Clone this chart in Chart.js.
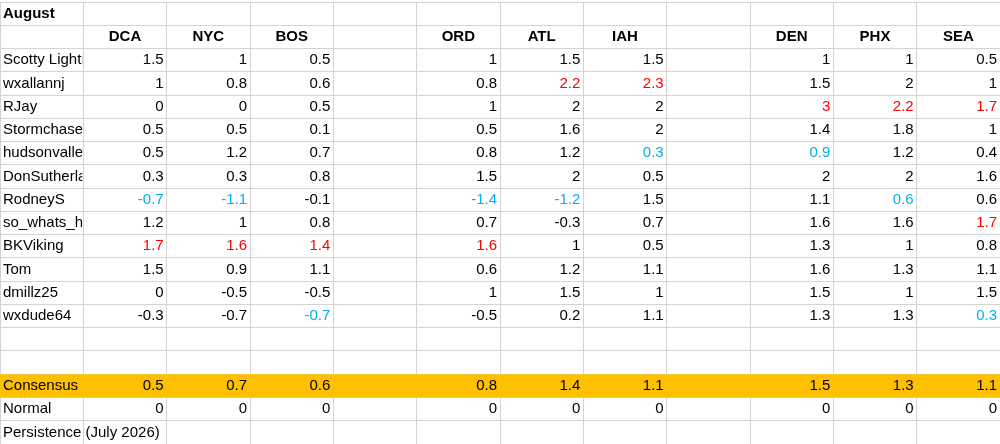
<!DOCTYPE html>
<html>
<head>
<meta charset="utf-8">
<script src="https://cdn.jsdelivr.net/npm/chart.js@4"></script>
<style>
  html, body { margin: 0; padding: 0; background: #fff; }
  #wrap { width: 1000px; height: 444px; }
</style>
</head>
<body>
<div id="wrap"><canvas id="tabela"></canvas></div>
<script>
// dados da planilha
const titulo = 'August';
const colunas = ['', 'DCA', 'NYC', 'BOS', '', 'ORD', 'ATL', 'IAH', '', 'DEN', 'PHX', 'SEA'];
const nomes = ['Scotty Lightning', 'wxallannj', 'RJay', 'Stormchaser Chuck', 'hudsonvalley21', 'DonSutherland1',
  'RodneyS', 'so_whats_happening', 'BKViking', 'Tom', 'dmillz25', 'wxdude64'];
const DCA = [1.5, 1, 0, 0.5, 0.5, 0.3, -0.7, 1.2, 1.7, 1.5, 0, -0.3];
const NYC = [1, 0.8, 0, 0.5, 1.2, 0.3, -1.1, 1, 1.6, 0.9, -0.5, -0.7];
const BOS = [0.5, 0.6, 0.5, 0.1, 0.7, 0.8, -0.1, 0.8, 1.4, 1.1, -0.5, -0.7];
const ORD = [1, 0.8, 1, 0.5, 0.8, 1.5, -1.4, 0.7, 1.6, 0.6, 1, -0.5];
const ATL = [1.5, 2.2, 2, 1.6, 1.2, 2, -1.2, -0.3, 1, 1.2, 1.5, 0.2];
const IAH = [1.5, 2.3, 2, 2, 0.3, 0.5, 1.5, 0.7, 0.5, 1.1, 1, 1.1];
const DEN = [1, 1.5, 3, 1.4, 0.9, 2, 1.1, 1.6, 1.3, 1.6, 1.5, 1.3];
const PHX = [1, 2, 2.2, 1.8, 1.2, 2, 0.6, 1.6, 1, 1.3, 1, 1.3];
const SEA = [0.5, 1, 1.7, 1, 0.4, 1.6, 0.6, 1.7, 0.8, 1.1, 1.5, 0.3];
const consenso = [0.5, 0.7, 0.6, 0.8, 1.4, 1.1, 1.5, 1.3, 1.1];
const normal = [0, 0, 0, 0, 0, 0, 0, 0, 0];
const persistencia = 'Persistence (July 2026)';

const estacoes = [DCA, NYC, BOS, null, ORD, ATL, IAH, null, DEN, PHX, SEA]; // colunas 1..11
const NLIN = 19, NCOL = 12;
const fonte = '"Liberation Sans", Arial, sans-serif';

// monta as celulas: {x, y, texto, tipo}
const celulas = [];
celulas.push({x: 0, y: 0, t: titulo, tipo: 'titulo'});
colunas.forEach(function(c, i){ if(c) celulas.push({x: i, y: 1, t: c, tipo: 'cab'}); });
nomes.forEach(function(n, r){ celulas.push({x: 0, y: r + 2, t: n, tipo: 'nome'}); });
estacoes.forEach(function(vals, k){
  if(!vals) return;
  var max = Math.max.apply(null, vals), min = Math.min.apply(null, vals);
  vals.forEach(function(v, r){
    var cor = v === max ? '#ff0000' : (v === min ? '#00b0f0' : '#000');
    celulas.push({x: k + 1, y: r + 2, t: String(v), tipo: 'num', cor: cor});
  });
});
celulas.push({x: 0, y: 16, t: 'Consensus', tipo: 'nomeLivre'});
celulas.push({x: 0, y: 17, t: 'Normal', tipo: 'nomeLivre'});
celulas.push({x: 0, y: 18, t: persistencia, tipo: 'nomeLivre'});
var k2 = 0;
estacoes.forEach(function(vals, k){
  if(!vals) return;
  celulas.push({x: k + 1, y: 16, t: String(consenso[k2]), tipo: 'num', cor: '#000'});
  celulas.push({x: k + 1, y: 17, t: String(normal[k2]), tipo: 'num', cor: '#000'});
  k2++;
});

const textoPlugin = {
  id: 'textoPlugin',
  beforeDatasetsDraw(chart){
    const c = chart.ctx, xs = chart.scales.x, ys = chart.scales.y;
    // faixa amarela do consenso
    c.save();
    c.fillStyle = '#ffc000';
    var y0 = ys.getPixelForValue(16), y1 = ys.getPixelForValue(17);
    c.fillRect(xs.getPixelForValue(0), y0, xs.getPixelForValue(NCOL) - xs.getPixelForValue(0), y1 - y0);
    c.restore();
  },
  afterDatasetsDraw(chart){
    const c = chart.ctx, xs = chart.scales.x, ys = chart.scales.y;
    const pts = chart.getDatasetMeta(0).data;
    c.save();
    c.textBaseline = 'middle';
    celulas.forEach(function(cel, i){
      var p = pts[i];
      var esq = xs.getPixelForValue(cel.x), dir = xs.getPixelForValue(cel.x + 1);
      c.fillStyle = cel.cor || '#000';
      c.font = (cel.tipo === 'titulo' || cel.tipo === 'cab' ? 'bold ' : '') + '15px ' + fonte;
      if(cel.tipo === 'num'){
        c.textAlign = 'right';
        c.fillText(cel.t, dir - 3, p.y);
      }else if(cel.tipo === 'cab'){
        c.textAlign = 'center';
        c.fillText(cel.t, p.x, p.y);
      }else if(cel.tipo === 'nome'){
        c.save();
        c.beginPath();
        c.rect(esq, p.y - 12, dir - esq - 1, 24);
        c.clip();
        c.textAlign = 'left';
        c.fillText(cel.t, esq + 3, p.y);
        c.restore();
      }else{
        c.textAlign = 'left';
        c.fillText(cel.t, esq + 3, p.y);
      }
    });
    c.restore();
  }
};

new Chart(document.getElementById('tabela'), {
  type: 'scatter',
  data: {
    datasets: [{
      data: celulas.map(function(cel){ return {x: cel.x + 0.5, y: cel.y + 0.5}; }),
      pointRadius: 0
    }]
  },
  options: {
    responsive: true,
    maintainAspectRatio: false,
    animation: false,
    layout: { padding: { top: 2, left: 0, right: 0, bottom: 0 } },
    plugins: { legend: { display: false }, tooltip: { enabled: false } },
    scales: {
      x: {
        type: 'linear', min: 0, max: NCOL,
        ticks: { display: false, stepSize: 1 },
        grid: { color: '#d4d4d4', drawTicks: false },
        border: { display: false }
      },
      y: {
        type: 'linear', min: 0, max: NLIN, reverse: true,
        ticks: { display: false, stepSize: 1 },
        grid: { color: '#d4d4d4', drawTicks: false },
        border: { display: false }
      }
    }
  },
  plugins: [textoPlugin]
});
</script>
</body>
</html>
